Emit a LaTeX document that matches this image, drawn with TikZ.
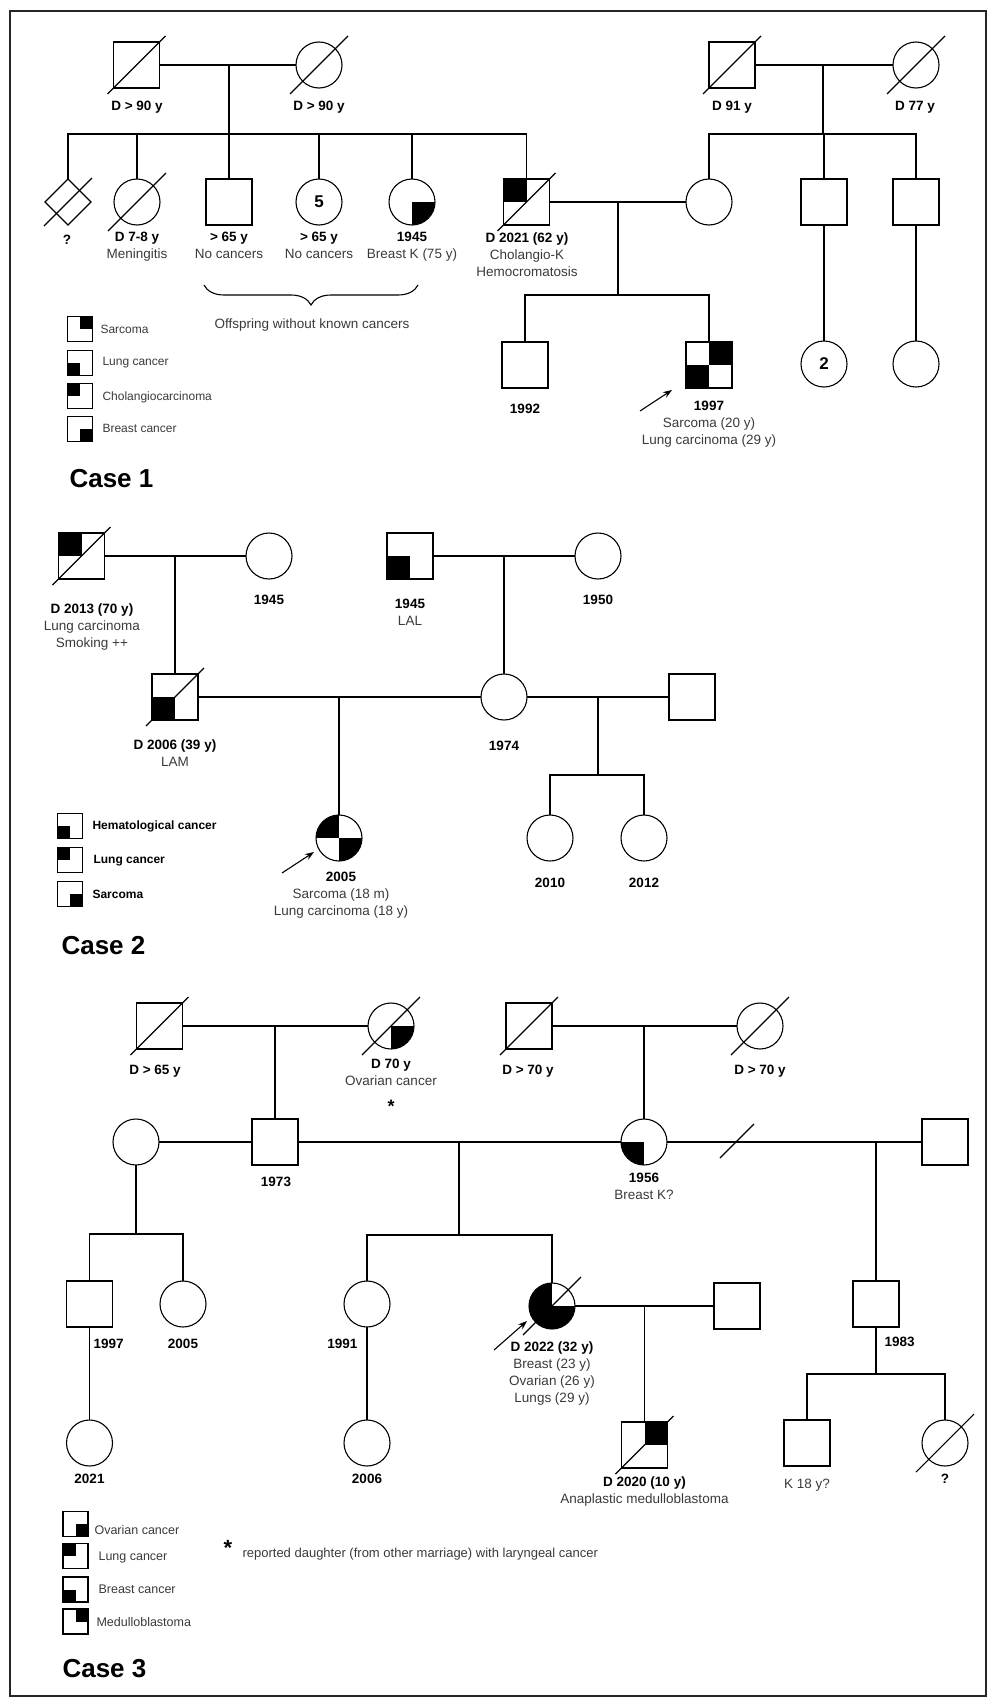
\documentclass[tikz,border=0pt]{standalone}
\usepackage{fontspec}
\setmainfont{Liberation Sans}
\usetikzlibrary{shapes.geometric,arrows.meta,decorations.pathreplacing}
\definecolor{txtgray}{HTML}{3A3A3A}
\newcommand{\lblfont}{\fontsize{13.5}{17}\selectfont}
\newcommand{\nb}[1]{\textcolor{txtgray}{#1}}
\newcommand{\dead}[1]{\draw (#1.center) ++(-29,29) -- ++(58,-58);}
\newcommand{\cquad}[3]{\begin{scope}\clip (#1.center) circle (23);\fill (#1.center) rectangle ++(#2,#3);\end{scope}}
\tikzset{
  male/.style={draw,rectangle,minimum size=46pt,inner sep=0pt,outer sep=0pt},
  female/.style={draw,circle,minimum size=46pt,inner sep=0pt,outer sep=0pt},
  unknown/.style={draw,diamond,minimum size=46pt,inner sep=0pt,outer sep=0pt},
  keybox/.style={draw,rectangle,minimum size=25pt,inner sep=0pt,outer sep=0pt},
  lbl/.style={anchor=north,align=center,inner sep=0pt,execute at begin node=\strut},
  keytxt/.style={anchor=west,inner sep=0pt,font=\fontsize{12}{14}\selectfont,text=txtgray},
  casetxt/.style={anchor=base west,inner sep=0pt,font=\bfseries\fontsize{26}{30}\selectfont},
}
\begin{document}
\begin{tikzpicture}[x=1pt,y=-1pt,line width=1.1pt,>={Stealth[length=9pt,width=6.5pt]},font=\lblfont]
\useasboundingbox (0,0) rectangle (995,1705);
\draw[line width=1.3pt,black!85] (10,11) rectangle (986,1696);

% Case 1
\node[male] (g1) at (136.5,65) {};
\node[female] (g2) at (319,65) {};
\node[male] (g3) at (732,65) {};
\node[female] (g4) at (916,65) {};
\node[unknown] (a1) at (68,202) {};
\node[female] (a2) at (137,202) {};
\node[male] (a3) at (229,202) {};
\node[female] (a4) at (319,202) {\bfseries\fontsize{17}{17}\selectfont 5};
\node[female] (a5) at (412,202) {};
\node[male] (a6) at (526.5,202) {};
\node[female] (a7) at (709,202) {};
\node[male] (a8) at (824,202) {};
\node[male] (a9) at (916,202) {};
\node[male] (b1) at (525,365) {};
\node[male] (b2) at (709,365) {};
\node[female] (b3) at (824,364) {\bfseries\fontsize{17}{17}\selectfont 2};
\node[female] (b4) at (916,364) {};
\coordinate (m1) at (229,65); \coordinate (s1) at (229,134);
\draw (g1) -- (g2); \draw (m1) -- (s1);
\draw (a1.north) |- (s1) -| (a6.north);
\foreach \n in {a2,a3,a4,a5} \draw (\n.north) -- (\n.north |- s1);
\coordinate (m2) at (823,65); \coordinate (s2) at (823,134);
\draw (g3) -- (g4); \draw (m2) -- (s2);
\draw (a7.north) |- (s2) -| (a9.north);
\draw (a8.north) -- (a8.north |- s2);
\coordinate (m3) at (618,202); \coordinate (s3) at (618,295);
\draw (a6) -- (a7); \draw (m3) -- (s3);
\draw (b1.north) |- (s3) -| (b2.north);
\draw (a8) -- (b3); \draw (a9) -- (b4);
\fill (a6.center) rectangle (a6.north west);
\cquad{a5}{23}{23}
\fill (b2.center) rectangle (b2.north east);
\fill (b2.center) rectangle (b2.south west);
\dead{g1} \dead{g2} \dead{g3} \dead{g4} \dead{a2} \dead{a6}
\draw (a1.center) ++(-24,24) -- ++(48,-48);
\node[lbl] (lg1) at (137,98) {\textbf{D > 90 y}};
\node[lbl] (lg2) at (319,98) {\textbf{D > 90 y}};
\node[lbl] (lg3) at (732,98) {\textbf{D 91 y}};
\node[lbl] (lg4) at (915,98) {\textbf{D 77 y}};
\node[lbl] (la1) at (67,232) {\textbf{?}};
\node[lbl] (la2) at (137,232) {\textbf{D 7-8 y}\\\nb{Meningitis}};
\node[lbl] (la3) at (229,232) {\textbf{> 65 y}\\\nb{No cancers}};
\node[lbl] (la4) at (319,232) {\textbf{> 65 y}\\\nb{No cancers}};
\node[lbl] (la5) at (412,232) {\textbf{1945}\\\nb{Breast K (75 y)}};
\node[lbl] (la6) at (527,232) {\textbf{D 2021 (62 y)}\\\nb{Cholangio-K}\\\nb{Hemocromatosis}};
\node[lbl] (lb1) at (525,401) {\textbf{1992}};
\node[lbl] (lb2) at (709,401) {\textbf{1997}\\\nb{Sarcoma (20 y)}\\\nb{Lung carcinoma (29 y)}};
\coordinate (p1) at (640,411); \coordinate (q1) at (672,390);
\draw[->] (p1) -- (q1);
\draw[decorate,decoration={brace,amplitude=20pt}] (418,285) -- (204,285);
\node[lbl] (off) at (312,316) {\nb{Offspring without known cancers}};
\node[keybox] (k1) at (80,329) {}; \fill (k1.center) rectangle (k1.north east);
\node[keybox] (k2) at (80,363) {}; \fill (k2.center) rectangle (k2.south west);
\node[keybox] (k3) at (80,396) {}; \fill (k3.center) rectangle (k3.north west);
\node[keybox] (k4) at (80,429) {}; \fill (k4.center) rectangle (k4.south east);
\node[keytxt] (t1) at (100,329) {Sarcoma};
\node[keytxt] (t2) at (102,363) {Lung cancer};
\node[keytxt] (t3) at (102,397) {Cholangiocarcinoma};
\node[keytxt] (t4) at (102,428) {Breast cancer};
\node[casetxt] (case1) at (69,487) {Case 1};

% Case 2
\node[male] (e1) at (81.5,556) {};
\node[female] (e2) at (269,556) {};
\node[male] (e3) at (410,556) {};
\node[female] (e4) at (598,556) {};
\node[male] (f1) at (175,697) {};
\node[female] (f2) at (504,697) {};
\node[male] (f3) at (692,697) {};
\node[female] (h1) at (339,838) {};
\node[female] (h2) at (550,838) {};
\node[female] (h3) at (644,838) {};
\coordinate (m4) at (175,556); \draw (e1) -- (e2); \draw (m4) -- (f1);
\coordinate (m5) at (504,556); \draw (e3) -- (e4); \draw (m5) -- (f2);
\coordinate (m6) at (339,697); \draw (f1) -- (f2); \draw (m6) -- (h1);
\coordinate (m7) at (598,697); \coordinate (s7) at (598,775);
\draw (f2) -- (f3); \draw (m7) -- (s7);
\draw (h2.north) |- (s7) -| (h3.north);
\fill (e1.center) rectangle (e1.north west);
\fill (f1.center) rectangle (f1.south west);
\fill (e3.center) rectangle (e3.south west);
\cquad{h1}{-23}{-23}
\cquad{h1}{23}{23}
\dead{e1} \dead{f1}
\node[lbl] (le1) at (92,603) {\textbf{D 2013 (70 y)}\\\nb{Lung carcinoma}\\\nb{Smoking ++}};
\node[lbl] (le2) at (269,592) {\textbf{1945}};
\node[lbl] (le3) at (410,599) {\textbf{1945}\\\nb{LAL}};
\node[lbl] (le4) at (598,592) {\textbf{1950}};
\node[lbl] (lf1) at (175,739) {\textbf{D 2006 (39 y)}\\\nb{LAM}};
\node[lbl] (lf2) at (504,738) {\textbf{1974}};
\node[lbl] (lh1) at (341,872) {\textbf{2005}\\\nb{Sarcoma (18 m)}\\\nb{Lung carcinoma (18 y)}};
\node[lbl] (lh2) at (550,875) {\textbf{2010}};
\node[lbl] (lh3) at (644,875) {\textbf{2012}};
\coordinate (p2) at (282,873); \coordinate (q2) at (314,852);
\draw[->] (p2) -- (q2);
\node[keybox] (k5) at (70,826) {}; \fill (k5.center) rectangle (k5.south west);
\node[keybox] (k6) at (70,860) {}; \fill (k6.center) rectangle (k6.north west);
\node[keybox] (k7) at (70,894) {}; \fill (k7.center) rectangle (k7.south east);
\node[keytxt,text=black,font=\bfseries\fontsize{12}{14}\selectfont] (t5) at (92,826) {Hematological cancer};
\node[keytxt,text=black,font=\bfseries\fontsize{12}{14}\selectfont] (t6) at (93,861) {Lung cancer};
\node[keytxt,text=black,font=\bfseries\fontsize{12}{14}\selectfont] (t7) at (92,894) {Sarcoma};
\node[casetxt] (case2) at (61,954) {Case 2};

% Case 3
\node[male] (u1) at (159.5,1026) {};
\node[female] (u2) at (391,1026) {};
\node[male] (u3) at (529,1026) {};
\node[female] (u4) at (760,1026) {};
\node[female] (v1) at (136,1142) {};
\node[male] (v2) at (275,1142) {};
\node[female] (v3) at (644,1142) {};
\node[male] (v4) at (945,1142) {};
\node[male] (w1) at (89.5,1304) {};
\node[female] (w2) at (183,1304) {};
\node[female] (w3) at (367,1304) {};
\node[female] (w4) at (552,1306) {};
\node[male] (w5) at (737,1306) {};
\node[male] (w6) at (876,1304) {};
\node[female] (z1) at (89.5,1443) {};
\node[female] (z2) at (367,1443) {};
\node[male] (z3) at (644.5,1445) {};
\node[male] (z4) at (807,1443) {};
\node[female] (z5) at (945,1443) {};
\coordinate (m8) at (275,1026); \draw (u1) -- (u2); \draw (m8) -- (v2);
\coordinate (m9) at (644,1026); \draw (u3) -- (u4); \draw (m9) -- (v3);
\coordinate (s10) at (136,1234);
\draw (v1) -- (v2); \draw (v1) -- (s10);
\draw (w1.north) |- (s10) -| (w2.north);
\coordinate (m11) at (459,1142); \coordinate (s11) at (459,1235);
\draw (v2) -- (v3); \draw (m11) -- (s11);
\draw (w3.north) |- (s11) -| (w4.north);
\coordinate (m12) at (876,1142); \coordinate (dv) at (737,1142);
\draw (v3) -- (v4); \draw (m12) -- (w6);
\draw (dv) ++(-17,16) -- ++(34,-34);
\coordinate (m13) at (644.5,1306); \draw (w4) -- (w5); \draw (m13) -- (z3);
\draw (w1) -- (z1); \draw (w3) -- (z2);
\coordinate (s14) at (876,1374); \draw (w6) -- (s14);
\draw (z4.north) |- (s14) -| (z5.north);
\cquad{u2}{23}{23}
\cquad{v3}{-23}{23}
\cquad{w4}{-23}{-23}
\cquad{w4}{-23}{23}
\cquad{w4}{23}{23}
\fill (z3.center) rectangle (z3.north east);
\dead{u1} \dead{u2} \dead{u3} \dead{u4} \dead{w4} \dead{z3} \dead{z5}
\node[lbl] (lu1) at (155,1062) {\textbf{D > 65 y}};
\node[lbl] (lu2) at (391,1059) {\textbf{D 70 y}\\\nb{Ovarian cancer}};
\node[inner sep=0pt] (ast1) at (391,1106) {\bfseries\fontsize{18}{18}\selectfont *};
\node[lbl] (lu3) at (528,1062) {\textbf{D > 70 y}};
\node[lbl] (lu4) at (760,1062) {\textbf{D > 70 y}};
\node[lbl] (lv2) at (276,1174) {\textbf{1973}};
\node[lbl] (lv3) at (644,1173) {\textbf{1956}\\\nb{Breast K?}};
\node[lbl,anchor=north west] (lw1) at (93,1336) {\textbf{1997}};
\node[lbl] (lw2) at (183,1336) {\textbf{2005}};
\node[lbl,anchor=north east] (lw3) at (358,1336) {\textbf{1991}};
\node[lbl] (lw4) at (552,1341) {\textbf{D 2022 (32 y)}\\\nb{Breast (23 y)}\\\nb{Ovarian (26 y)}\\\nb{Lungs (29 y)}};
\node[lbl,anchor=north west] (lw6) at (884,1334) {\textbf{1983}};
\node[lbl] (lz1) at (89.5,1471) {\textbf{2021}};
\node[lbl] (lz2) at (367,1471) {\textbf{2006}};
\node[lbl] (lz3) at (644.5,1476) {\textbf{D 2020 (10 y)}\\\nb{Anaplastic medulloblastoma}};
\node[lbl] (lz4) at (807,1476) {\nb{K 18 y?}};
\node[lbl] (lz5) at (945,1471) {\textbf{?}};
\coordinate (p3) at (494,1350); \coordinate (q3) at (527,1321);
\draw[->] (p3) -- (q3);
\node[keybox] (k8) at (75.5,1524) {}; \fill (k8.center) rectangle (k8.south east);
\node[keybox] (k9) at (75.5,1556) {}; \fill (k9.center) rectangle (k9.north west);
\node[keybox] (k10) at (75.5,1589.5) {}; \fill (k10.center) rectangle (k10.south west);
\node[keybox] (k11) at (75.5,1621.5) {}; \fill (k11.center) rectangle (k11.north east);
\node[keytxt,font=\fontsize{12.5}{14}\selectfont] (t8) at (94,1530) {Ovarian cancer};
\node[keytxt,font=\fontsize{12.5}{14}\selectfont] (t9) at (98,1557) {Lung cancer};
\node[keytxt,font=\fontsize{12.5}{14}\selectfont] (t10) at (98,1589) {Breast cancer};
\node[keytxt,font=\fontsize{12.5}{14}\selectfont] (t11) at (96,1622) {Medulloblastoma};
\node[inner sep=0pt] (ast2) at (228,1548) {\bfseries\fontsize{22}{22}\selectfont *};
\node[keytxt,font=\fontsize{13}{15}\selectfont] (note) at (242,1554) {reported daughter (from other marriage) with laryngeal cancer};
\node[casetxt] (case3) at (62,1677) {Case 3};
\end{tikzpicture}
\end{document}
